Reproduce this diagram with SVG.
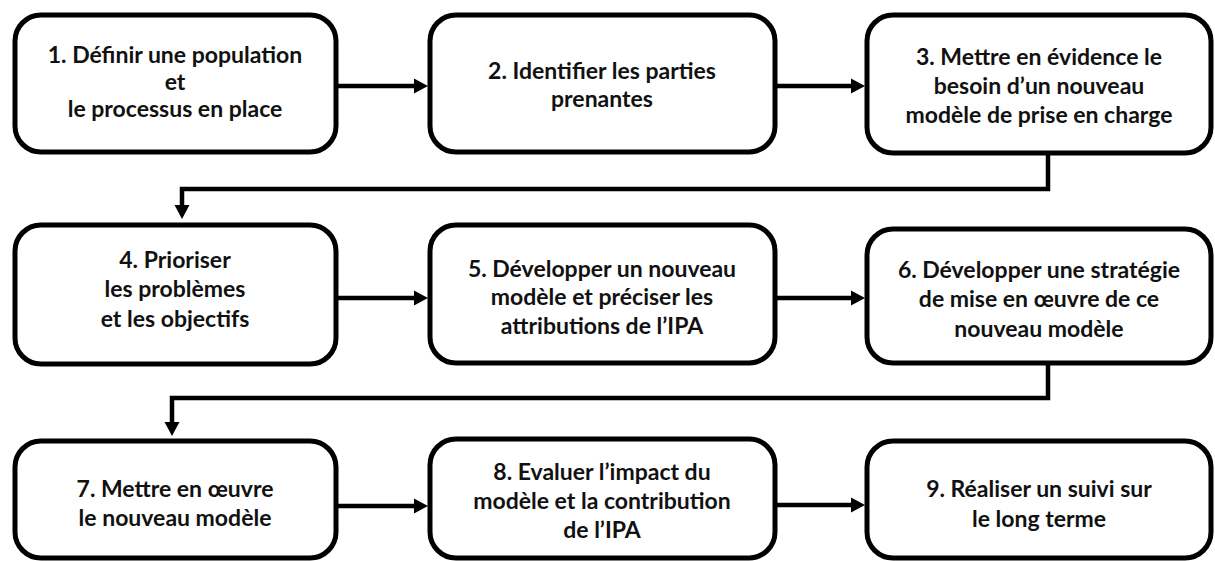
<svg xmlns="http://www.w3.org/2000/svg" width="1215" height="561" viewBox="0 0 1215 561">
<style>
.box{fill:#fff;stroke:#000;stroke-width:5}
.lbl{font-family:Lato,"Open Sans","Liberation Sans",sans-serif;font-weight:bold;font-size:23px;fill:#111;text-anchor:middle}
.con{fill:none;stroke:#000;stroke-width:4.5}
</style>
<defs>
<marker id="ah" markerUnits="userSpaceOnUse" markerWidth="16" markerHeight="16" refX="0" refY="7.5" orient="auto" overflow="visible">
<path d="M0,0 L14,7.5 L0,15 z" fill="#000"/>
</marker>
</defs>
<rect width="1215" height="561" fill="#fff"/>
<g id="connectors">
<path class="con" d="M336,86 H414" marker-end="url(#ah)"/>
<path class="con" d="M775,86 H851" marker-end="url(#ah)"/>
<path class="con" d="M1048,153 V189 H182 V205" marker-end="url(#ah)"/>
<path class="con" d="M336,298 H414" marker-end="url(#ah)"/>
<path class="con" d="M775,298 H851" marker-end="url(#ah)"/>
<path class="con" d="M1048,363 V398 H172 V422" marker-end="url(#ah)"/>
<path class="con" d="M336,506 H414" marker-end="url(#ah)"/>
<path class="con" d="M775,505 H851" marker-end="url(#ah)"/>
</g>
<g id="n1"><rect class="box" x="15" y="15" width="321" height="137" rx="26"/>
<text class="lbl"><tspan x="175" y="63">1. Définir une population</tspan><tspan x="175" y="90">et</tspan><tspan x="175" y="117">le processus en place</tspan></text></g>
<g id="n2"><rect class="box" x="430" y="15" width="345" height="137" rx="26"/>
<text class="lbl"><tspan x="602" y="79">2. Identifier les parties</tspan><tspan x="602" y="107">prenantes</tspan></text></g>
<g id="n3"><rect class="box" x="867" y="15" width="344" height="138" rx="26"/>
<text class="lbl"><tspan x="1039" y="65">3. Mettre en évidence le</tspan><tspan x="1039" y="94">besoin d’un nouveau</tspan><tspan x="1039" y="123">modèle de prise en charge</tspan></text></g>
<g id="n4"><rect class="box" x="15" y="225" width="321" height="139" rx="26"/>
<text class="lbl"><tspan x="175" y="268">4. Prioriser</tspan><tspan x="175" y="297">les problèmes</tspan><tspan x="175" y="327">et les objectifs</tspan></text></g>
<g id="n5"><rect class="box" x="430" y="225" width="345" height="138" rx="26"/>
<text class="lbl"><tspan x="602" y="277">5. Développer un nouveau</tspan><tspan x="602" y="305">modèle et préciser les</tspan><tspan x="602" y="334">attributions de l’IPA</tspan></text></g>
<g id="n6"><rect class="box" x="867" y="229" width="344" height="134" rx="26"/>
<text class="lbl"><tspan x="1039" y="278">6. Développer une stratégie</tspan><tspan x="1039" y="307">de mise en œuvre de ce</tspan><tspan x="1039" y="337">nouveau modèle</tspan></text></g>
<g id="n7"><rect class="box" x="15" y="441" width="321" height="117" rx="26"/>
<text class="lbl"><tspan x="175" y="497">7. Mettre en œuvre</tspan><tspan x="175" y="526">le nouveau modèle</tspan></text></g>
<g id="n8"><rect class="box" x="430" y="439" width="345" height="119" rx="26"/>
<text class="lbl"><tspan x="602" y="480">8. Evaluer l’impact du</tspan><tspan x="602" y="509">modèle et la contribution</tspan><tspan x="602" y="538">de l’IPA</tspan></text></g>
<g id="n9"><rect class="box" x="867" y="441" width="344" height="117" rx="26"/>
<text class="lbl"><tspan x="1039" y="497">9. Réaliser un suivi sur</tspan><tspan x="1039" y="527">le long terme</tspan></text></g>
</svg>
